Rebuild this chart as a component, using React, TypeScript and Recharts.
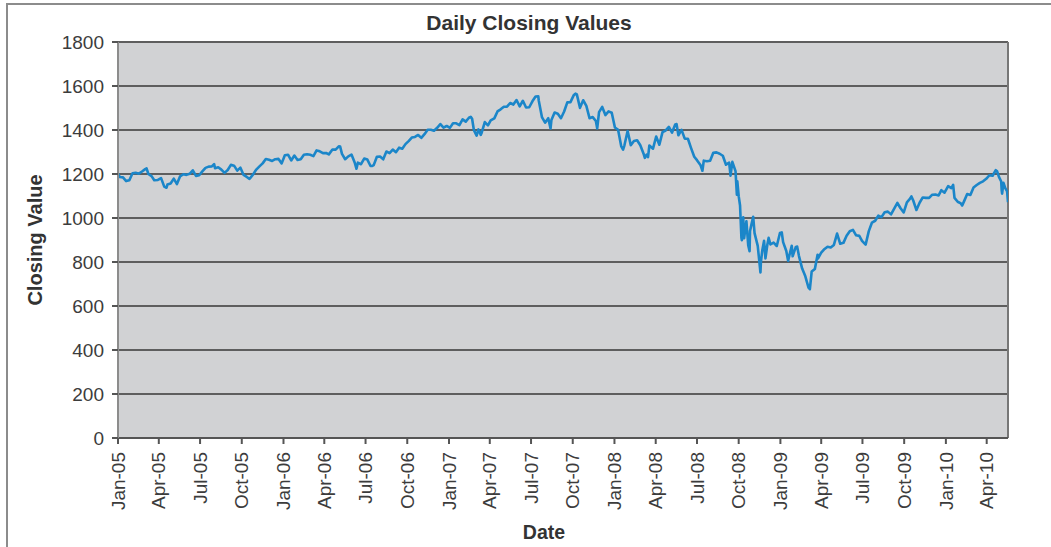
import React from 'react';
import { LineChart, Line, XAxis, YAxis, CartesianGrid, ReferenceLine } from 'recharts';

// Daily closing values (sampled), grouped by year: "MM-DD" and close
const days2005 = ['01-03','01-07','01-14','01-21','01-28','02-04','02-11','02-18','02-25','03-04','03-07','03-11','03-18','03-24','04-01','04-08','04-15','04-20','04-22','04-29','05-06','05-13','05-20','05-27','06-03','06-10','06-17','06-24','07-01','07-08','07-15','07-22','07-29','08-03','08-05','08-12','08-19','08-26','09-02','09-09','09-16','09-23','09-30','10-07','10-14','10-20','10-21','10-28','11-04','11-11','11-18','11-25','12-02','12-09','12-16','12-23','12-30'];
const close2005 = [1202.08,1186.19,1184.52,1167.87,1171.36,1203.03,1205.30,1201.59,1211.37,1222.12,1225.31,1200.08,1190.21,1171.42,1172.92,1181.20,1142.62,1137.50,1152.12,1156.85,1178.84,1154.05,1189.28,1198.78,1196.02,1200.93,1216.96,1191.57,1194.44,1211.86,1227.92,1233.68,1234.18,1245.04,1226.42,1230.39,1219.71,1205.10,1218.02,1241.48,1237.91,1215.29,1228.81,1195.90,1186.57,1177.80,1179.59,1198.41,1220.14,1234.72,1248.27,1268.25,1265.08,1259.37,1267.32,1268.66,1248.29];

const days2006 = ['01-06','01-13','01-20','01-27','02-03','02-10','02-17','02-24','03-03','03-10','03-17','03-24','03-31','04-07','04-13','04-21','04-28','05-05','05-08','05-12','05-19','05-26','06-02','06-09','06-13','06-16','06-23','06-30','07-07','07-14','07-18','07-21','07-28','08-04','08-11','08-18','08-25','09-01','09-08','09-15','09-22','09-29','10-06','10-13','10-20','10-27','11-03','11-10','11-17','11-24','12-01','12-08','12-15','12-22','12-29'];
const close2006 = [1285.45,1287.61,1261.49,1283.72,1264.03,1266.99,1287.24,1289.43,1287.23,1281.42,1307.25,1302.95,1294.83,1295.50,1289.12,1311.28,1310.61,1325.76,1324.66,1291.24,1267.03,1280.16,1288.22,1252.30,1223.69,1251.54,1244.50,1270.20,1265.48,1236.20,1236.86,1240.29,1278.55,1279.36,1266.74,1302.30,1295.09,1311.01,1298.92,1319.66,1314.78,1335.85,1349.59,1365.62,1368.60,1377.34,1364.30,1380.90,1401.20,1400.95,1396.71,1409.84,1427.09,1410.76,1418.30];

const days2007 = ['01-05','01-12','01-19','01-26','02-02','02-09','02-16','02-20','02-23','02-27','03-02','03-05','03-09','03-14','03-16','03-23','03-30','04-05','04-13','04-20','04-27','05-04','05-11','05-18','05-25','06-01','06-08','06-15','06-22','06-29','07-06','07-13','07-19','07-20','07-27','08-03','08-10','08-15','08-17','08-24','08-31','09-07','09-14','09-21','09-28','10-05','10-09','10-12','10-19','10-26','11-02','11-09','11-16','11-23','11-26','11-30','12-07','12-14','12-21','12-28'];
const close2007 = [1409.71,1430.73,1430.50,1422.18,1448.39,1438.06,1455.54,1459.68,1451.19,1399.04,1387.17,1374.12,1402.84,1377.95,1386.95,1436.11,1420.86,1443.76,1452.85,1484.35,1494.07,1505.62,1505.85,1522.75,1515.73,1536.34,1507.67,1532.91,1502.56,1503.35,1530.44,1552.50,1553.08,1534.10,1458.95,1433.06,1453.64,1406.70,1445.94,1479.37,1473.99,1453.55,1484.25,1525.75,1526.75,1557.59,1565.15,1561.80,1500.63,1535.28,1509.65,1453.70,1458.74,1440.70,1407.22,1481.14,1504.66,1467.95,1484.46,1478.49];

const days2008 = ['01-04','01-11','01-18','01-22','01-25','02-01','02-08','02-15','02-22','02-29','03-07','03-10','03-14','03-17','03-20','03-28','04-04','04-11','04-18','04-25','05-02','05-09','05-16','05-19','05-23','05-30','06-06','06-13','06-20','06-27','07-03','07-11','07-15','07-18','07-25','08-01','08-08','08-15','08-22','08-29','09-05','09-12','09-15','09-19','09-26','09-29','09-30','10-03','10-06','10-09','10-10','10-13','10-15','10-17','10-20','10-24','10-27','10-28','10-31','11-04','11-07','11-14','11-20','11-21','11-24','11-28','12-01','12-05','12-08','12-12','12-19','12-26'];
const close2008 = [1411.63,1401.02,1325.19,1310.50,1330.61,1395.42,1331.29,1349.99,1353.11,1330.63,1293.37,1273.37,1288.14,1276.60,1329.51,1315.22,1370.40,1332.83,1390.33,1397.84,1413.90,1388.28,1425.35,1426.63,1375.93,1400.38,1360.68,1360.03,1317.93,1278.38,1262.90,1239.49,1214.91,1260.68,1257.76,1260.31,1296.32,1298.20,1292.20,1282.83,1242.31,1251.70,1192.70,1255.08,1213.27,1106.39,1166.36,1099.23,1056.89,909.92,899.22,1003.35,907.84,940.55,985.40,876.77,848.92,940.51,968.75,1005.75,930.99,873.29,752.44,800.03,851.81,896.24,816.21,876.07,909.70,879.73,887.88,872.80];

const days2009 = ['01-02','01-06','01-09','01-16','01-20','01-23','01-28','01-30','02-06','02-09','02-13','02-20','02-27','03-06','03-09','03-13','03-20','03-26','03-27','04-03','04-09','04-17','04-24','05-01','05-08','05-15','05-22','05-29','06-05','06-12','06-19','06-26','07-02','07-10','07-17','07-24','07-31','08-07','08-14','08-21','08-28','09-04','09-11','09-18','09-25','10-02','10-09','10-16','10-19','10-23','10-30','11-06','11-13','11-20','11-27','12-04','12-11','12-18','12-24','12-31'];
const close2009 = [931.80,934.70,890.35,850.12,805.22,831.95,874.09,825.88,868.60,869.89,826.84,770.05,735.09,683.38,676.53,756.55,768.54,832.86,815.94,842.50,856.56,869.60,866.23,877.52,929.23,882.88,887.00,919.14,940.09,946.21,921.23,918.90,896.42,879.13,940.38,979.26,987.48,1010.48,1004.09,1026.13,1028.93,1016.40,1042.73,1068.30,1044.38,1025.21,1071.49,1087.68,1097.91,1079.60,1036.19,1069.30,1093.48,1091.38,1091.49,1105.98,1106.41,1102.47,1126.48,1115.10];

const days2010 = ['01-08','01-15','01-19','01-22','01-29','02-05','02-08','02-12','02-19','02-26','03-05','03-12','03-19','03-26','04-02','04-09','04-16','04-23','04-26','04-30','05-05','05-06','05-07','05-10','05-14','05-18','05-20'];
const close2010 = [1144.98,1136.03,1150.23,1091.76,1073.87,1066.19,1056.74,1075.51,1109.17,1104.49,1138.70,1149.99,1159.90,1166.59,1178.10,1194.37,1192.13,1217.28,1212.05,1186.69,1165.87,1128.15,1110.88,1159.73,1135.68,1120.80,1071.59];

const years = [
  { year: 2005, days: days2005, close: close2005 },
  { year: 2006, days: days2006, close: close2006 },
  { year: 2007, days: days2007, close: close2007 },
  { year: 2008, days: days2008, close: close2008 },
  { year: 2009, days: days2009, close: close2009 },
  { year: 2010, days: days2010, close: close2010 },
];

const tickDates = ['2005-01-03','2005-04-03','2005-07-03','2005-10-03','2006-01-03','2006-04-03','2006-07-03','2006-10-03','2007-01-03','2007-04-03','2007-07-03','2007-10-03','2008-01-03','2008-04-03','2008-07-03','2008-10-03','2009-01-03','2009-04-03','2009-07-03','2009-10-03','2010-01-03','2010-04-03'];
const tickLabels = ['Jan-05','Apr-05','Jul-05','Oct-05','Jan-06','Apr-06','Jul-06','Oct-06','Jan-07','Apr-07','Jul-07','Oct-07','Jan-08','Apr-08','Jul-08','Oct-08','Jan-09','Apr-09','Jul-09','Oct-09','Jan-10','Apr-10'];
const yTicks = [0, 200, 400, 600, 800, 1000, 1200, 1400, 1600, 1800];

const ORIGIN = Date.UTC(2005, 0, 3);
const dayIndex = (iso: string) =>
  Math.round((Date.UTC(+iso.slice(0, 4), +iso.slice(5, 7) - 1, +iso.slice(8, 10)) - ORIGIN) / 86400000);

const data = years.flatMap((y) =>
  y.days.map((d, i) => ({ t: dayIndex(`${y.year}-${d}`), close: y.close[i] }))
);
const tMax = data[data.length - 1].t;
const xTicks = tickDates.map(dayIndex);
const labelFor: Record<number, string> = {};
xTicks.forEach((t, i) => { labelFor[t] = tickLabels[i]; });

const FONT = '"Liberation Sans", Arial, Helvetica, sans-serif';

const XTick = (props: any) => {
  const { x, y, payload } = props;
  return (
    <text
      x={x}
      y={y}
      transform={`rotate(-90, ${x}, ${y})`}
      textAnchor="end"
      dy="0.35em"
      fontSize={19}
      fill="#3c3c3c"
      fontFamily={FONT}
    >
      {labelFor[payload.value]}
    </text>
  );
};

export default function App() {
  return (
    <div style={{ position: 'absolute', left: 0, top: 0, width: 1051, height: 547, overflow: 'hidden', background: '#fff', fontFamily: FONT }}>
      <div style={{ position: 'absolute', left: 6, top: 3, width: 1100, height: 600, border: '2px solid #8c8c8c', boxSizing: 'border-box' }} />
      <div style={{ position: 'absolute', left: 0, top: 0 }}>
        <LineChart width={1051} height={547} data={data} margin={{ top: 42, right: 43, bottom: 49, left: 58 }}>
          <CartesianGrid vertical={false} horizontal={true} stroke="#5e5e5e" strokeWidth={2} fill="#d1d2d4" />
          <XAxis
            dataKey="t"
            type="number"
            domain={[0, tMax]}
            ticks={xTicks}
            interval={0}
            height={60}
            tickSize={6}
            tickMargin={8}
            tick={<XTick />}
            axisLine={{ stroke: '#555', strokeWidth: 2 }}
            tickLine={{ stroke: '#555', strokeWidth: 2 }}
            allowDataOverflow
          />
          <YAxis
            type="number"
            domain={[0, 1800]}
            ticks={yTicks}
            interval={0}
            width={60}
            tickSize={6}
            tickMargin={8}
            tick={{ fontSize: 19, fill: '#3c3c3c', fontFamily: FONT }}
            axisLine={{ stroke: '#8c8c8c', strokeWidth: 2 }}
            tickLine={{ stroke: '#555', strokeWidth: 2 }}
          />
          <ReferenceLine x={tMax} stroke="#777" strokeWidth={2} />
          <Line
            type="linear"
            dataKey="close"
            stroke="#1b86c9"
            strokeWidth={2.6}
            strokeLinejoin="round"
            dot={false}
            isAnimationActive={false}
          />
        </LineChart>
      </div>
      <div style={{ position: 'absolute', left: 0, width: 1058, top: 11, textAlign: 'center', fontSize: 21, lineHeight: '23px', fontWeight: 'bold', color: '#333' }}>
        Daily Closing Values
      </div>
      <div style={{ position: 'absolute', left: 35 - 100, top: 240 - 12, width: 200, height: 24, lineHeight: '24px', textAlign: 'center', fontSize: 20, fontWeight: 'bold', color: '#333', transform: 'rotate(-90deg)' }}>
        Closing Value
      </div>
      <div style={{ position: 'absolute', left: 544 - 60, top: 532 - 12, width: 120, height: 24, lineHeight: '24px', textAlign: 'center', fontSize: 19.5, fontWeight: 'bold', color: '#333' }}>
        Date
      </div>
    </div>
  );
}
